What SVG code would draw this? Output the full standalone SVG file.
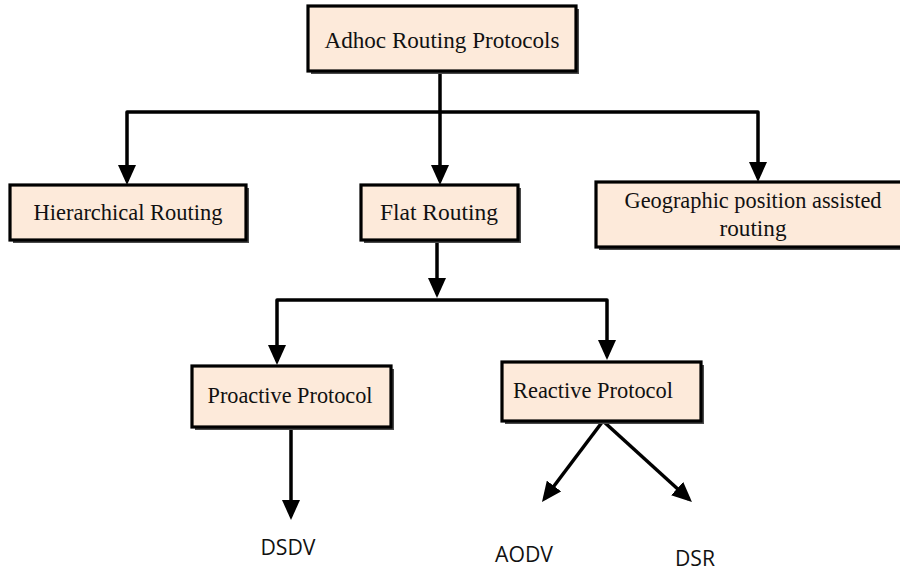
<svg xmlns="http://www.w3.org/2000/svg" width="900" height="573" viewBox="0 0 900 573">
<defs>
<style>
.box{fill:#FDEADA;stroke:#000;stroke-width:3.2}
.sh{fill:#4a4a4a}
.t{font-family:"Liberation Serif","Times New Roman",serif;font-size:23px;fill:#111;text-anchor:middle}
.s{font-family:"Open Sans","Liberation Sans",sans-serif;font-size:21px;fill:#111;text-anchor:middle}
.c{fill:none;stroke:#000;stroke-width:3.5;stroke-linejoin:round}
</style>
<marker id="ah" viewBox="0 0 20 18" markerWidth="20" markerHeight="18" refX="16" refY="9" orient="auto-start-reverse" markerUnits="userSpaceOnUse">
<path d="M0,0 L20,9 L0,18 z" fill="#000"/>
</marker>
</defs>
<rect width="900" height="573" fill="#fff"/>
<g id="connectors">
<path class="c" d="M440,71 V181" marker-end="url(#ah)"/>
<path class="c" d="M127,181 V112 H758 V178" marker-start="url(#ah)" marker-end="url(#ah)"/>
<path class="c" d="M437,240 V294" marker-end="url(#ah)"/>
<path class="c" d="M277,361 V300 H607 V356" marker-start="url(#ah)" marker-end="url(#ah)"/>
<path class="c" d="M291,427 V516" marker-end="url(#ah)"/>
<path class="c" d="M603,421 L544.4,498.8" marker-end="url(#ah)"/>
<path class="c" d="M603,421 L689,499.3" marker-end="url(#ah)"/>
</g>
<g id="n-adhoc">
<rect class="sh" x="311" y="9" width="268" height="65"/>
<rect class="box" x="308" y="6" width="268" height="65"/>
<text class="t" x="442" y="48" textLength="235" lengthAdjust="spacingAndGlyphs">Adhoc Routing Protocols</text>
</g>
<g id="n-hier">
<rect class="sh" x="13" y="188" width="236" height="55"/>
<rect class="box" x="10" y="185" width="236" height="55"/>
<text class="t" x="128" y="220" textLength="189" lengthAdjust="spacingAndGlyphs">Hierarchical Routing</text>
</g>
<g id="n-flat">
<rect class="sh" x="364" y="188" width="157" height="55"/>
<rect class="box" x="361" y="185" width="157" height="55"/>
<text class="t" x="439" y="220" textLength="118" lengthAdjust="spacingAndGlyphs">Flat Routing</text>
</g>
<g id="n-geo">
<rect class="sh" x="599" y="185" width="310" height="65"/>
<rect class="box" x="596" y="182" width="310" height="65"/>
<text class="t" x="753" y="208" textLength="257" lengthAdjust="spacingAndGlyphs">Geographic position assisted</text>
<text class="t" x="753" y="236" textLength="67" lengthAdjust="spacingAndGlyphs">routing</text>
</g>
<g id="n-proactive">
<rect class="sh" x="195" y="369" width="199" height="61"/>
<rect class="box" x="192" y="366" width="199" height="61"/>
<text class="t" x="290" y="403" textLength="165" lengthAdjust="spacingAndGlyphs">Proactive Protocol</text>
</g>
<g id="n-reactive">
<rect class="sh" x="505" y="365" width="199" height="59"/>
<rect class="box" x="502" y="362" width="199" height="59"/>
<text class="t" x="593" y="398" textLength="160" lengthAdjust="spacingAndGlyphs">Reactive Protocol</text>
</g>
<g id="n-dsdv"><text class="s" x="288" y="555" textLength="55" lengthAdjust="spacingAndGlyphs">DSDV</text></g>
<g id="n-aodv"><text class="s" x="524" y="562" textLength="58" lengthAdjust="spacingAndGlyphs">AODV</text></g>
<g id="n-dsr"><text class="s" x="695" y="566" textLength="40" lengthAdjust="spacingAndGlyphs">DSR</text></g>
</svg>
